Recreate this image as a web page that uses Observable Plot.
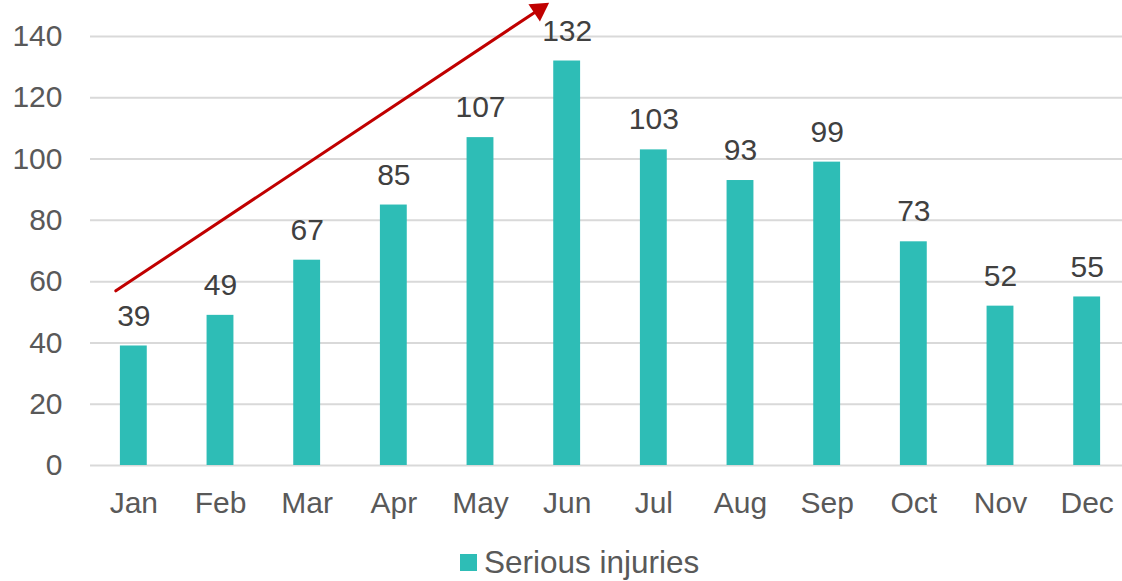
<!DOCTYPE html>
<html>
<head>
<meta charset="utf-8">
<script src="https://cdn.jsdelivr.net/npm/d3@7"></script>
<script src="https://cdn.jsdelivr.net/npm/@observablehq/plot@0.6"></script>
<style>
  html, body { margin: 0; padding: 0; background: #fff; overflow: hidden; }
  body { width: 1122px; height: 581px; font-family: "Liberation Sans", Arial, sans-serif; }
  #legend { display: flex; align-items: center; justify-content: flex-start; height: 54px; padding-left: 460px; }
  #legend .sw { width: 17px; height: 17px; background: #2EBDB6; margin-right: 7px; }
  #legend .lb { font-size: 31.5px; color: #595959; }
</style>
</head>
<body>
<div id="chart"></div>
<div id="legend"><span class="sw"></span><span class="lb">Serious injuries</span></div>
<script>
const months = ["Jan","Feb","Mar","Apr","May","Jun","Jul","Aug","Sep","Oct","Nov","Dec"];
const injuries = [39, 49, 67, 85, 107, 132, 103, 93, 99, 73, 52, 55];
const yTicks = [0, 20, 40, 60, 80, 100, 120, 140];
const trendFrom = {month: "Jan", value: 57};
const trendTo = {month: "Jun", value: 151};

const data = months.map((m, i) => ({month: m, value: injuries[i]}));
const trend = [{x1: trendFrom.month, y1: trendFrom.value, x2: trendTo.month, y2: trendTo.value}];

const chart = Plot.plot({
  width: 1122,
  height: 535,
  marginLeft: 90,
  marginRight: 0,
  marginTop: 36,
  marginBottom: 70,
  style: {fontFamily: "'Liberation Sans', Arial, sans-serif", fontSize: "30px", background: "#fff", overflow: "visible"},
  x: {domain: months, range: [90, 1130], round: false, paddingInner: 0.69, paddingOuter: 0.345, label: null},
  y: {domain: [0, 140], label: null},
  marks: [
    Plot.ruleY(yTicks, {stroke: "#d9d9d9", strokeWidth: 2}),
    Plot.barY(data, {x: "month", y: "value", fill: "#2EBDB6"}),
    Plot.text(data, {x: "month", y: "value", text: d => String(d.value), dy: -30, fill: "#404040", fontSize: 30}),
    Plot.axisY({ticks: yTicks, tickSize: 0, tickPadding: 28, fill: "#595959", fontSize: 30, label: null}),
    Plot.axisX({tickSize: 0, tickPadding: 26, fill: "#595959", fontSize: 30, label: null}),
    Plot.arrow(trend, {
      x1: "x1", y1: "y1", x2: "x2", y2: "y2", dx: -18,
      stroke: "#C00000", strokeWidth: 3, headLength: 0, insetEnd: 12, clip: false
    }),
    Plot.dot(trend, {
      x: "x2", y: "y2", dx: -28, dy: 6.7, symbol: "triangle", r: 7.7, rotate: 56.4,
      fill: "#C00000", stroke: "none", clip: false
    })
  ]
});
document.getElementById("chart").appendChild(chart);
</script>
</body>
</html>
